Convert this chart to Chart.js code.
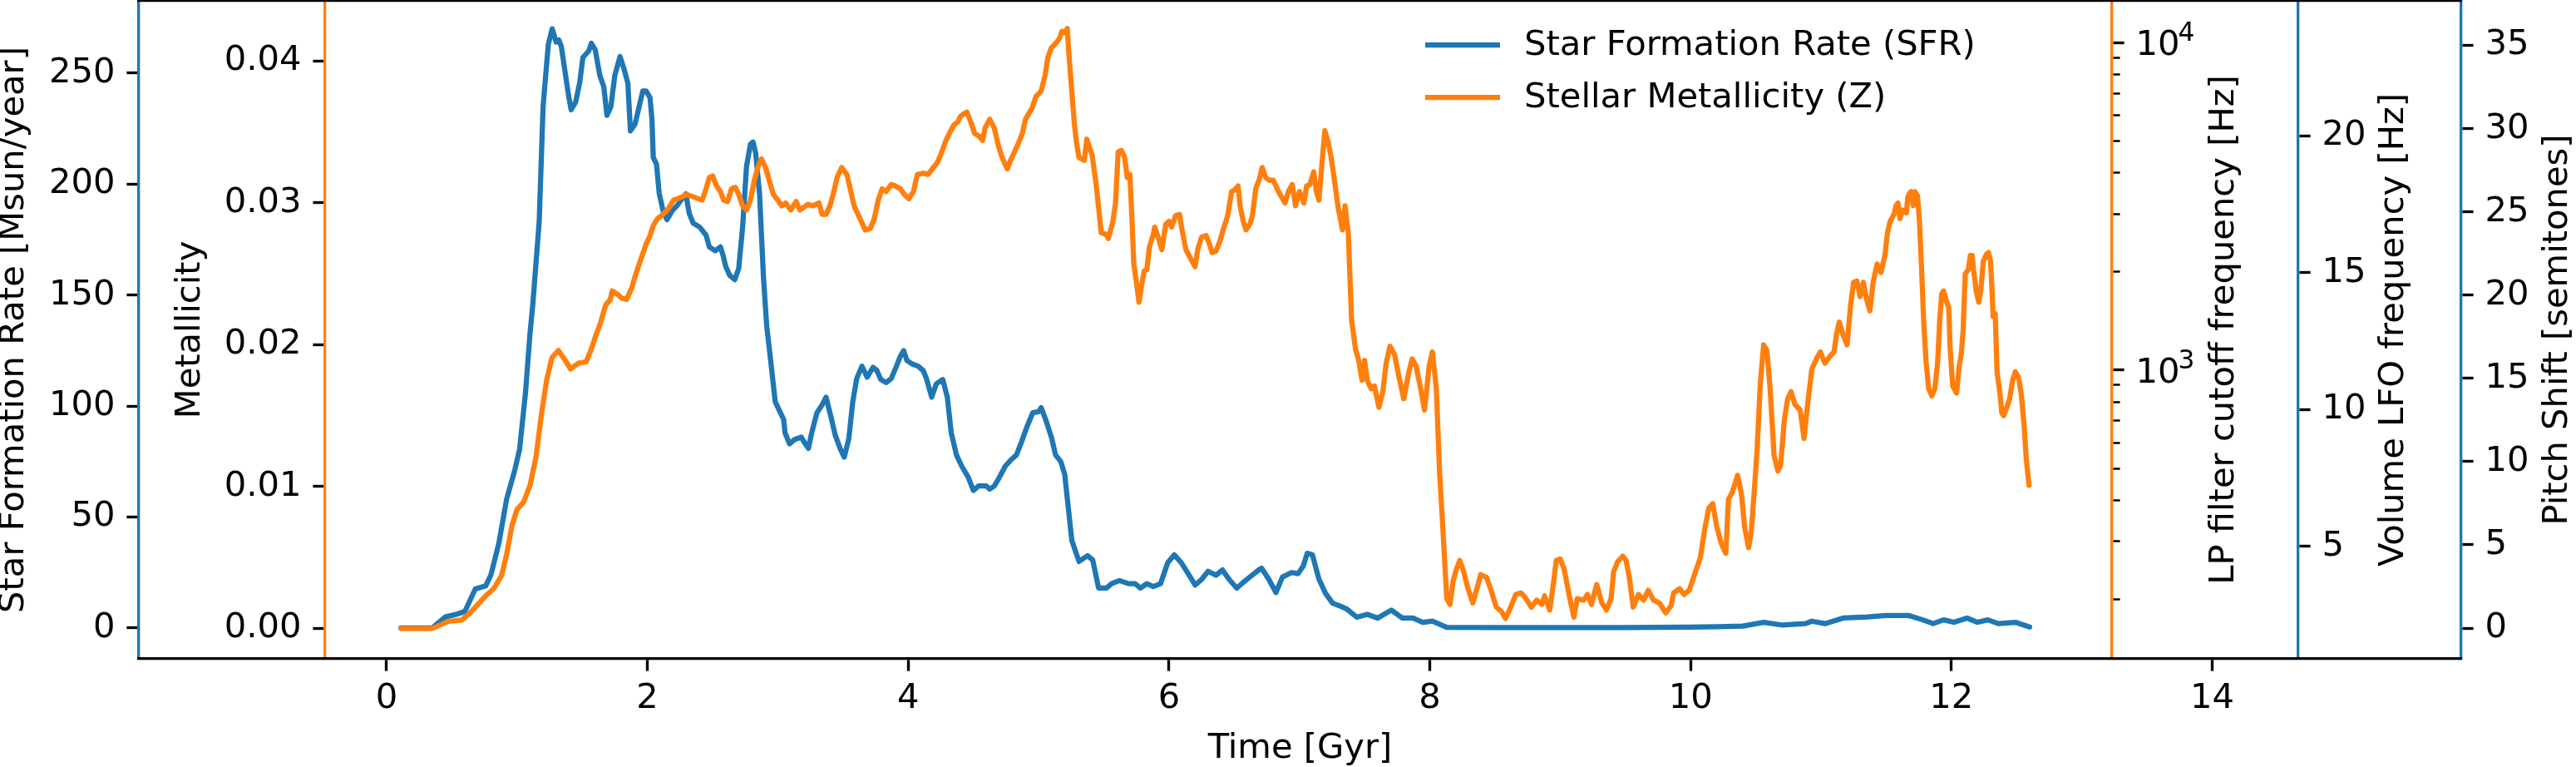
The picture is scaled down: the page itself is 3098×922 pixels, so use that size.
<!DOCTYPE html>
<html>
<head>
<meta charset="utf-8">
<script src="https://cdn.jsdelivr.net/npm/chart.js@4.4.1/dist/chart.umd.min.js"></script>
<style>
html, body { margin: 0; padding: 0; background: #ffffff; }
#wrap { position: relative; width: 3098px; height: 922px; }
#wrap canvas { position: absolute; left: 0; top: 0; }
</style>
</head>
<body>
<div id="wrap">
  <canvas id="axes" width="3098" height="922"></canvas>
  <canvas id="main" width="3098" height="922"></canvas>
</div>
<script>
// ---------------- DATA ----------------
const sfrTime = [
  0.11, 0.35, 0.45, 0.54, 0.60, 0.68, 0.76, 0.80, 0.86, 0.92,
  0.98, 1.02, 1.065, 1.10, 1.12, 1.17, 1.20, 1.24, 1.27, 1.30,
  1.32, 1.34, 1.365, 1.395, 1.415, 1.45, 1.48, 1.505, 1.55, 1.57,
  1.60, 1.635, 1.665, 1.69, 1.72, 1.75, 1.79, 1.82, 1.85, 1.87,
  1.905, 1.965, 1.99, 2.02, 2.035, 2.045, 2.07, 2.09, 2.12, 2.15,
  2.19, 2.23, 2.26, 2.295, 2.32, 2.35, 2.40, 2.45, 2.475, 2.52,
  2.56, 2.58, 2.60, 2.63, 2.67, 2.70, 2.73, 2.76, 2.79, 2.81,
  2.83, 2.86, 2.89, 2.915, 2.945, 2.98, 3.02, 3.045, 3.055, 3.09,
  3.13, 3.18, 3.20, 3.235, 3.26, 3.30, 3.34, 3.37, 3.40, 3.44,
  3.48, 3.51, 3.545, 3.575, 3.605, 3.645, 3.685, 3.73, 3.76, 3.79,
  3.83, 3.87, 3.91, 3.94, 3.965, 3.99, 4.03, 4.075, 4.115, 4.14,
  4.18, 4.215, 4.265, 4.30, 4.33, 4.37, 4.41, 4.46, 4.50, 4.54,
  4.60, 4.625, 4.66, 4.70, 4.745, 4.785, 4.83, 4.87, 4.91, 4.955,
  5.00, 5.02, 5.06, 5.10, 5.13, 5.17, 5.20, 5.255, 5.31, 5.375,
  5.415, 5.46, 5.52, 5.56, 5.62, 5.69, 5.74, 5.78, 5.83, 5.88,
  5.935, 5.99, 6.04, 6.095, 6.147, 6.20, 6.25, 6.30, 6.36, 6.41,
  6.46, 6.52, 6.57, 6.62, 6.675, 6.71, 6.765, 6.82, 6.87, 6.94,
  6.99, 7.03, 7.06, 7.10, 7.15, 7.20, 7.255, 7.31, 7.36, 7.44,
  7.52, 7.60, 7.705, 7.79, 7.87, 7.945, 8.02, 8.13, 8.5, 9.0,
  9.5, 9.98, 10.2, 10.4, 10.56, 10.7, 10.88, 10.93, 11.03, 11.17,
  11.355, 11.5, 11.67, 11.78, 11.86, 11.94, 12.02, 12.12, 12.2, 12.28,
  12.36, 12.49, 12.60
];
const sfrRate = [
  0, 0, 5, 6.3, 7.5, 17.6, 19, 24, 38, 58,
  70.5, 80.6, 106, 133, 145, 183, 235, 263, 270, 264,
  265, 262, 252, 240, 233.5, 237, 245.5, 257, 260, 263.5,
  260.5, 249, 244, 231, 235, 249, 257.5, 252, 245.5, 224,
  227, 242, 242, 239, 229, 212, 209, 196, 188, 184,
  188, 190.5, 193, 195.6, 187, 182.5, 180.7, 177, 171.7, 170,
  171.7, 168, 163, 159, 157, 162, 180.6, 208, 218, 219,
  214, 195.6, 158, 136, 120.7, 102, 97, 94, 88, 83,
  85, 86, 84, 81, 88, 97, 100.6, 104, 97, 87,
  80.6, 77, 85.6, 102, 112.4, 118, 113, 117.5, 116, 112,
  110.6, 112.4, 118, 122.5, 125, 120.6, 119, 118, 116, 112.4,
  104, 110, 112, 104, 88, 78, 73, 68, 62, 64,
  64, 62.6, 64, 68, 73, 75.6, 78, 84, 90.6, 97,
  97.5, 99.3, 93, 85.6, 78, 75, 69.3, 39.4, 30, 32.6,
  30.7, 18, 18, 20, 21.4, 20, 20, 18, 20, 18.7,
  20, 29.4, 33, 29.4, 24.5, 19.4, 21.9, 25.6, 23.8, 26.2,
  22, 18, 20.6, 23, 25.6, 27, 22, 16, 23, 25,
  24.5, 28, 33.7, 33, 22, 15.7, 11.2, 10, 8.7, 4.9,
  6.2, 4.5, 8.1, 4.5, 4.5, 2.6, 3.1, 0.3, 0.2, 0.2,
  0.2, 0.4, 0.6, 0.9, 2.6, 1.4, 2, 3.1, 2, 4.5,
  5, 5.7, 5.7, 3.7, 2, 3.7, 2.6, 4.5, 2.6, 3.7,
  2, 2.6, 0.5
];

const zTime = [
  0.11, 0.35, 0.47, 0.575, 0.64, 0.70, 0.76, 0.82, 0.88, 0.92,
  0.96, 1.00, 1.05, 1.10, 1.146, 1.186, 1.227, 1.268, 1.317, 1.37,
  1.41, 1.47, 1.53, 1.57, 1.61, 1.635, 1.68, 1.715, 1.73, 1.78,
  1.80, 1.84, 1.88, 1.905, 1.93, 1.96, 1.99, 2.02, 2.045, 2.077,
  2.12, 2.16, 2.20, 2.23, 2.26, 2.30, 2.36, 2.42, 2.45, 2.475,
  2.50, 2.53, 2.56, 2.585, 2.615, 2.645, 2.675, 2.70, 2.73, 2.76,
  2.79, 2.82, 2.85, 2.875, 2.91, 2.94, 2.966, 3.00, 3.03, 3.06,
  3.10, 3.14, 3.17, 3.23, 3.27, 3.315, 3.34, 3.37, 3.40, 3.43,
  3.455, 3.49, 3.53, 3.56, 3.585, 3.63, 3.67, 3.71, 3.74, 3.77,
  3.80, 3.83, 3.87, 3.90, 3.94, 3.97, 4.005, 4.04, 4.07, 4.12,
  4.15, 4.185, 4.22, 4.25, 4.285, 4.315, 4.35, 4.38, 4.40, 4.43,
  4.45, 4.48, 4.51, 4.545, 4.57, 4.59, 4.625, 4.66, 4.69, 4.72,
  4.76, 4.785, 4.84, 4.875, 4.90, 4.95, 4.98, 5.02, 5.05, 5.07,
  5.095, 5.135, 5.16, 5.18, 5.20, 5.22, 5.23, 5.25, 5.275, 5.29,
  5.31, 5.33, 5.35, 5.37, 5.39, 5.41, 5.44, 5.46, 5.48, 5.515,
  5.535, 5.57, 5.59, 5.61, 5.635, 5.66, 5.68, 5.70, 5.715, 5.73,
  5.75, 5.77, 5.79, 5.81, 5.83, 5.85, 5.88, 5.89, 5.92, 5.945,
  5.975, 6.00, 6.02, 6.05, 6.08, 6.10, 6.13, 6.165, 6.20, 6.22,
  6.25, 6.285, 6.31, 6.33, 6.36, 6.39, 6.415, 6.45, 6.48, 6.50,
  6.53, 6.545, 6.57, 6.59, 6.62, 6.64, 6.665, 6.69, 6.715, 6.74,
  6.77, 6.80, 6.84, 6.865, 6.89, 6.915, 6.945, 6.97, 7.00, 7.035,
  7.055, 7.08, 7.11, 7.13, 7.15, 7.175, 7.195, 7.22, 7.24, 7.26,
  7.295, 7.33, 7.35, 7.375, 7.40, 7.43, 7.455, 7.48, 7.50, 7.52,
  7.55, 7.575, 7.61, 7.64, 7.665, 7.695, 7.73, 7.76, 7.80, 7.84,
  7.865, 7.895, 7.93, 7.96, 7.995, 8.02, 8.05, 8.075, 8.10, 8.13,
  8.155, 8.18, 8.205, 8.23, 8.26, 8.29, 8.33, 8.37, 8.39, 8.435,
  8.47, 8.51, 8.55, 8.58, 8.62, 8.66, 8.70, 8.73, 8.78, 8.82,
  8.86, 8.88, 8.92, 8.95, 8.97, 9.00, 9.03, 9.07, 9.105, 9.13,
  9.18, 9.21, 9.24, 9.28, 9.32, 9.355, 9.39, 9.41, 9.44, 9.48,
  9.505, 9.53, 9.56, 9.60, 9.64, 9.675, 9.715, 9.76, 9.81, 9.85,
  9.87, 9.915, 9.95, 9.99, 10.03, 10.075, 10.11, 10.14, 10.17, 10.20,
  10.235, 10.27, 10.29, 10.32, 10.36, 10.39, 10.415, 10.445, 10.465, 10.49,
  10.51, 10.535, 10.56, 10.585, 10.61, 10.64, 10.67, 10.69, 10.72, 10.745,
  10.77, 10.80, 10.84, 10.87, 10.895, 10.93, 10.97, 10.995, 11.03, 11.07,
  11.10, 11.12, 11.14, 11.17, 11.20, 11.225, 11.25, 11.275, 11.30, 11.325,
  11.35, 11.375, 11.40, 11.43, 11.46, 11.49, 11.51, 11.53, 11.56,
  11.575, 11.59, 11.605, 11.625, 11.655, 11.665, 11.68, 11.69, 11.707, 11.72,
  11.74, 11.755, 11.77, 11.787, 11.805, 11.826, 11.85, 11.873, 11.894, 11.911,
  11.926, 11.94, 11.958, 11.98, 11.99, 12.01, 12.04, 12.06, 12.075, 12.09,
  12.106, 12.13, 12.145, 12.16, 12.17, 12.19, 12.21, 12.225, 12.245, 12.27,
  12.285, 12.30, 12.31, 12.32, 12.336, 12.35, 12.372, 12.387, 12.40, 12.426,
  12.447, 12.47, 12.49, 12.515, 12.535, 12.557, 12.574, 12.595
];
const zMetal = [
  0, 0, 0.0005, 0.0006, 0.0011, 0.0017, 0.0023, 0.0028, 0.0037, 0.0052,
  0.0072, 0.0084, 0.0089, 0.0101, 0.0121, 0.015, 0.0175, 0.0191, 0.0196, 0.0189,
  0.0183, 0.0187, 0.0188, 0.0197, 0.0208, 0.0214, 0.0228, 0.0232, 0.0238, 0.0235,
  0.0233, 0.0232, 0.024, 0.0248, 0.0255, 0.0263, 0.0271, 0.0277, 0.0284, 0.0289,
  0.0292, 0.0296, 0.0302, 0.0303, 0.0304, 0.0306, 0.0304, 0.0302, 0.031, 0.0318,
  0.0319, 0.0312, 0.0308, 0.0302, 0.0301, 0.031, 0.0311, 0.0306, 0.0298, 0.0295,
  0.0302, 0.0316, 0.0326, 0.0331, 0.0324, 0.0314, 0.0306, 0.0302, 0.0298, 0.030,
  0.0295, 0.0301, 0.0295, 0.0299, 0.0298, 0.030, 0.0292, 0.0292, 0.0298, 0.0308,
  0.0318, 0.0325, 0.032, 0.0308, 0.0298, 0.0289, 0.0281, 0.0282, 0.0289, 0.0302,
  0.031, 0.0308, 0.0313, 0.0312, 0.031, 0.0306, 0.0303, 0.0308, 0.032, 0.0321,
  0.032, 0.0324, 0.0328, 0.0334, 0.0343, 0.0349, 0.0355, 0.0357, 0.0361, 0.0363,
  0.0364, 0.0357, 0.0349, 0.0347, 0.0344, 0.0353, 0.0359, 0.0353, 0.0341, 0.0332,
  0.0324, 0.033, 0.0341, 0.0349, 0.0359, 0.0367, 0.0375, 0.0379, 0.039, 0.0402,
  0.0409, 0.0413, 0.0416, 0.0421, 0.042, 0.0423, 0.0408, 0.0384, 0.0355, 0.0343,
  0.0332, 0.0331, 0.033, 0.0345, 0.0339, 0.0334, 0.0314, 0.0297, 0.0279, 0.0278,
  0.0275, 0.0287, 0.030, 0.0336, 0.0337, 0.0332, 0.0318, 0.032, 0.0291, 0.0257,
  0.0244, 0.023, 0.0242, 0.0252, 0.0253, 0.0269, 0.0278, 0.0283, 0.0275, 0.0267,
  0.0285, 0.0287, 0.0283, 0.0291, 0.0292, 0.0281, 0.0267, 0.0261, 0.0255, 0.0267,
  0.0276, 0.0277, 0.0271, 0.0265, 0.0266, 0.0273, 0.0281, 0.0291, 0.0308, 0.0309,
  0.0312, 0.0298, 0.0287, 0.0281, 0.0285, 0.0291, 0.031, 0.0316, 0.0325, 0.0318,
  0.0316, 0.0316, 0.0308, 0.0304, 0.030, 0.0308, 0.0313, 0.0298, 0.0308, 0.030,
  0.0312, 0.0313, 0.0322, 0.0308, 0.0302, 0.033, 0.0351, 0.0343, 0.0334, 0.0322,
  0.0298, 0.0281, 0.0298, 0.0279, 0.0218, 0.0197, 0.0189, 0.0175, 0.0189, 0.0175,
  0.0169, 0.0171, 0.0156, 0.0167, 0.0187, 0.0199, 0.0193, 0.0179, 0.0162, 0.0181,
  0.019, 0.0185, 0.0169, 0.0154, 0.0185, 0.0195, 0.0169, 0.011, 0.0071, 0.0021,
  0.0017, 0.0034, 0.0042, 0.0048, 0.004, 0.0029, 0.0018, 0.0031, 0.0038, 0.0036,
  0.0027, 0.0015, 0.0012, 0.0007, 0.0015, 0.0024, 0.0025, 0.0022, 0.0015, 0.002,
  0.0017, 0.0023, 0.0013, 0.0033, 0.0048, 0.0049, 0.0042, 0.0023, 0.0008, 0.0021,
  0.002, 0.0024, 0.0017, 0.0031, 0.0018, 0.0013, 0.0021, 0.004, 0.0047, 0.0051,
  0.0048, 0.0036, 0.0015, 0.0024, 0.002, 0.0027, 0.002, 0.0018, 0.0011, 0.0016,
  0.0025, 0.0028, 0.0024, 0.0027, 0.0038, 0.005, 0.0071, 0.0085, 0.0088, 0.0072,
  0.006, 0.0053, 0.0091, 0.0096, 0.0108, 0.0095, 0.0071, 0.0057, 0.0068, 0.0099,
  0.0126, 0.0173, 0.020, 0.0196, 0.0169, 0.0122, 0.0111, 0.0115, 0.0148, 0.0162,
  0.0167, 0.0158, 0.0154, 0.0134, 0.0156, 0.0183, 0.0191, 0.0195, 0.0187, 0.0192,
  0.0195, 0.0208, 0.0216, 0.0207, 0.020, 0.0226, 0.0244, 0.0245, 0.0234, 0.0244,
  0.0232, 0.0224, 0.0244, 0.0257, 0.0251, 0.0263, 0.0279, 0.0287, 0.0292,
  0.0298, 0.030, 0.0289, 0.0295, 0.0293, 0.0304, 0.0307, 0.0308, 0.0298, 0.0308,
  0.0305, 0.0287, 0.0257, 0.0218, 0.0189, 0.0169, 0.0164, 0.0169, 0.0187, 0.0218,
  0.0236, 0.0238, 0.0232, 0.0226, 0.0198, 0.0171, 0.0166, 0.0185, 0.0193, 0.021,
  0.025, 0.0253, 0.0263, 0.0263, 0.0253, 0.0238, 0.023, 0.0238, 0.0259, 0.0264,
  0.0265, 0.0259, 0.0242, 0.022, 0.0222, 0.0181, 0.0166, 0.0152, 0.015, 0.0156,
  0.0162, 0.0175, 0.0181, 0.0177, 0.0166, 0.0144, 0.012, 0.0101
];

// tick values
const timeTicks = [0, 2, 4, 6, 8, 10, 12, 14];
const sfrTicks = [0, 50, 100, 150, 200, 250];
const metalTicks = [0, 0.01, 0.02, 0.03, 0.04];
const lpTicks = [200, 300, 400, 500, 600, 700, 800, 900, 1000,
                 2000, 3000, 4000, 5000, 6000, 7000, 8000, 9000, 10000];
const lpMajorTicks = [1000, 10000];
const lpMajorLabels = [['10', '3'], ['10', '4']];
const lfoTicks = [5, 10, 15, 20];
const pitchTicks = [0, 5, 10, 15, 20, 25, 30, 35];

// axis ranges
const timeRange = [-1.9, 15.91];
const sfrRange = [-13.87, 282.6];
const metalRange = [-0.00214, 0.04425];
const lpRange = [131.3, 13408];
const lfoRange = [0.894, 24.93];
const pitchRange = [-1.849, 37.68];

// ---------------- STYLE ----------------
const BLUE = '#1f77b4';
const ORANGE = '#ff7f0e';
const FS = 41.67;
const FONT = {family: 'DejaVu Sans', size: FS};
const TICK_LEN = 14.6;
const SPINE_W = 3.33;
Chart.defaults.font.family = 'DejaVu Sans';
Chart.defaults.font.size = FS;
Chart.defaults.color = '#000';

const setTicks = arr => scale => { scale.ticks = arr.map(v => ({value: v})); };
const fixWidth = w => scale => { scale.width = w; scale.paddingTop = 0; scale.paddingBottom = 0; };
const fixHeight = h => scale => { scale.height = h; scale.paddingLeft = 0; scale.paddingRight = 0; };

function yAxis(o) {
  return {
    type: o.type || 'linear',
    position: o.position,
    weight: o.weight,
    min: o.range[0],
    max: o.range[1],
    afterBuildTicks: setTicks(o.ticks),
    afterFit: fixWidth(o.width),
    border: {display: true, color: o.color, width: SPINE_W},
    grid: Object.assign({drawOnChartArea: false, tickLength: TICK_LEN, tickWidth: SPINE_W, tickColor: '#000'}, o.grid || {}),
    ticks: {font: FONT, color: '#000', padding: 14, autoSkip: false, callback: o.fmt},
    title: o.title ? {display: true, text: o.title, color: '#000',
      font: {family: 'DejaVu Sans', size: FS, lineHeight: '34px'},
      padding: {top: o.titlePad, bottom: 0}} : {display: false}
  };
}

// right-hand axis titles, reading bottom-to-top like the original
const rightTitles = [
  {id: 'lp', text: 'LP filter cutoff frequency [Hz]', offset: 89},
  {id: 'lfo', text: 'Volume LFO frequency [Hz]', offset: 81},
  {id: 'pitch', text: 'Pitch Shift [semitones]', offset: 22}
];
const axisTextPlugin = {
  id: 'axisText',
  afterDraw(chart) {
    const ctx = chart.ctx;
    const yMid = (chart.chartArea.top + chart.chartArea.bottom) / 2;
    ctx.save();
    ctx.fillStyle = '#000';
    // titles
    ctx.font = FS + 'px "DejaVu Sans"';
    ctx.textAlign = 'center';
    ctx.textBaseline = 'middle';
    for (const t of rightTitles) {
      const s = chart.scales[t.id];
      ctx.save();
      ctx.translate(s.right - t.offset, yMid);
      ctx.rotate(-Math.PI / 2);
      ctx.fillText(t.text, 0, 0);
      ctx.restore();
    }
    // log-axis labels with superscript exponents
    const lp = chart.scales.lp;
    ctx.textAlign = 'left';
    ctx.textBaseline = 'alphabetic';
    lpMajorTicks.forEach((v, i) => {
      const y = lp.getPixelForValue(v);
      const x = lp.left + TICK_LEN + 14;
      const base = y + 0.365 * FS;
      ctx.font = FS + 'px "DejaVu Sans"';
      ctx.fillText(lpMajorLabels[i][0], x, base);
      const w = ctx.measureText(lpMajorLabels[i][0]).width;
      ctx.font = (FS * 0.75) + 'px "DejaVu Sans"';
      ctx.fillText(lpMajorLabels[i][1], x + w - 2, base - 17);
    });
    ctx.restore();
  }
};

const isLpMajor = v => lpMajorTicks.includes(v);

// ---------------- AXES CHART (stacked y axes) ----------------
new Chart(document.getElementById('axes'), {
  type: 'line',
  data: {datasets: []},
  options: {
    responsive: false, animation: false, devicePixelRatio: 1,
    layout: {padding: {left: 0, right: 0, top: 1, bottom: 130}},
    plugins: {legend: {display: false}, tooltip: {enabled: false}},
    scales: {
      x: {type: 'linear', display: false, min: 0, max: 1},
      sfrAxis: yAxis({position: 'left', weight: 1, range: sfrRange, ticks: sfrTicks, width: 167,
        color: BLUE, fmt: v => String(v), title: 'Star Formation Rate [Msun/year]', titlePad: 0}),
      metalAxis: yAxis({position: 'left', weight: 0, range: metalRange, ticks: metalTicks, width: 224,
        color: ORANGE, fmt: v => v.toFixed(2), title: 'Metallicity', titlePad: 45.5}),
      lp: yAxis({type: 'logarithmic', position: 'right', weight: 0, range: lpRange, ticks: lpTicks, width: 224,
        color: ORANGE, fmt: () => '',
        grid: {
          tickWidth: c => (c.tick && isLpMajor(c.tick.value)) ? SPINE_W : 2.5,
          tickBorderDash: c => (c.tick && isLpMajor(c.tick.value)) ? [] : [8.3, 100]
        }}),
      lfo: yAxis({position: 'right', weight: 1, range: lfoRange, ticks: lfoTicks, width: 196,
        color: BLUE, fmt: v => String(v)}),
      pitch: yAxis({position: 'right', weight: 2, range: pitchRange, ticks: pitchTicks, width: 138,
        color: BLUE, fmt: v => String(v)})
    }
  },
  plugins: [axisTextPlugin]
});

// ---------------- MAIN CHART (lines + time axis) ----------------
const legendPlugin = {
  id: 'insideLegend',
  afterDraw(chart) {
    const ctx = chart.ctx;
    const rows = [chart.data.datasets[1], chart.data.datasets[0]];
    ctx.save();
    ctx.font = FS + 'px "DejaVu Sans"';
    ctx.textAlign = 'left';
    ctx.textBaseline = 'middle';
    rows.forEach((ds, i) => {
      const y = 54 + i * 63;
      ctx.strokeStyle = ds.borderColor;
      ctx.lineWidth = ds.borderWidth;
      ctx.lineCap = 'butt';
      ctx.beginPath();
      ctx.moveTo(1714, y);
      ctx.lineTo(1804, y);
      ctx.stroke();
      ctx.fillStyle = '#000';
      ctx.fillText(ds.label, 1833, y + 1);
    });
    ctx.restore();
  }
};

const lineStyle = {pointRadius: 0, borderWidth: 6.25, tension: 0, fill: false,
  borderJoinStyle: 'round', borderCapStyle: 'round'};

new Chart(document.getElementById('main'), {
  type: 'line',
  data: {
    datasets: [
      Object.assign({
        label: 'Stellar Metallicity (Z)',
        data: zTime.map((t, i) => ({x: t, y: zMetal[i]})),
        yAxisID: 'metal', borderColor: ORANGE, order: 0
      }, lineStyle),
      Object.assign({
        label: 'Star Formation Rate (SFR)',
        data: sfrTime.map((t, i) => ({x: t, y: sfrRate[i]})),
        yAxisID: 'sfr', borderColor: BLUE, order: 1
      }, lineStyle)
    ]
  },
  options: {
    responsive: false, animation: false, devicePixelRatio: 1,
    layout: {padding: {left: 167, right: 138, top: 1, bottom: 0}},
    plugins: {legend: {display: false}, tooltip: {enabled: false}},
    scales: {
      x: {
        type: 'linear', position: 'bottom', min: timeRange[0], max: timeRange[1],
        afterBuildTicks: setTicks(timeTicks), afterFit: fixHeight(130),
        border: {display: true, color: '#000', width: SPINE_W},
        grid: {drawOnChartArea: false, tickLength: TICK_LEN, tickWidth: SPINE_W, tickColor: '#000'},
        ticks: {font: FONT, color: '#000', padding: 8.5, autoSkip: false, maxRotation: 0, callback: v => String(v)},
        title: {display: true, text: 'Time [Gyr]', color: '#000',
          font: {family: 'DejaVu Sans', size: FS, lineHeight: '44px'}, padding: {top: 0, bottom: 0}}
      },
      xTop: {
        type: 'linear', axis: 'x', position: 'top', min: timeRange[0], max: timeRange[1],
        afterFit: fixHeight(0),
        border: {display: true, color: '#000', width: SPINE_W},
        grid: {display: false, drawTicks: false},
        ticks: {display: false}
      },
      sfr: {type: 'linear', display: false, min: sfrRange[0], max: sfrRange[1]},
      metal: {type: 'linear', display: false, min: metalRange[0], max: metalRange[1]}
    }
  },
  plugins: [legendPlugin]
});
</script>
</body>
</html>
